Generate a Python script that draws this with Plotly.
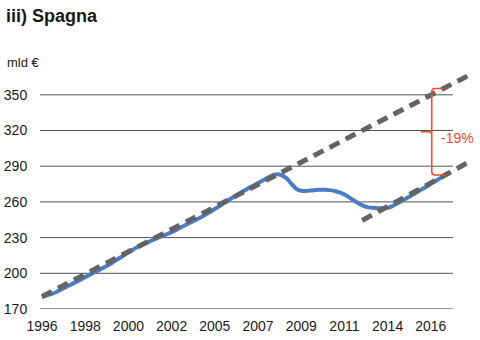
import plotly.graph_objects as go

# ---- data ----
quarters = list(range(86))  # quarterly index starting 1996Q1
gdp = [180.0, 181.4, 182.7, 184.3, 186.4, 188.5, 190.5, 192.6, 194.7, 196.8,
       198.9, 201.0, 203.1, 205.2, 207.3, 209.9, 212.4, 215.0, 217.6, 220.0,
       222.3, 224.2, 226.0, 227.8, 229.6, 231.2, 232.8, 234.6, 236.6, 238.7,
       240.8, 242.8, 244.8, 246.9, 249.1, 251.5, 254.0, 256.6, 259.2, 261.8,
       264.3, 266.8, 269.1, 271.4, 273.6, 275.8, 278.0, 280.2, 282.2, 283.2,
       282.3, 279.6, 275.0, 271.0, 269.3, 269.2, 269.6, 270.0, 270.2, 270.2,
       269.9, 269.2, 268.0, 266.2, 263.8, 261.2, 258.7, 256.6, 255.4, 255.0,
       254.7, 254.6, 255.0, 256.5, 258.6, 260.9, 263.2, 265.5, 267.9, 270.3,
       272.7, 275.2, 277.6, 280.0, 282.4, 284.8]
trend1_x = [0, 88.6]
trend1_y = [180.5, 365.7]
trend2_x = [66.7, 89.6]
trend2_y = [244.4, 295.0]
tick_pos = [0, 9, 18, 27, 36, 45, 54, 63, 72, 81]
tick_labels = ["1996", "1998", "2000", "2002", "2005", "2007", "2009", "2011", "2014", "2016"]
y_ticks = [170, 200, 230, 260, 290, 320, 350]
gap_label = "-19%"

FONT = "Liberation Sans Narrow, Arial Narrow, Liberation Sans, sans-serif"
RED = "#ef4b2c"

def t1(q):
    return trend1_y[0] + (trend1_y[1] - trend1_y[0]) * (q - trend1_x[0]) / (trend1_x[1] - trend1_x[0])

def t2(q):
    return trend2_y[0] + (trend2_y[1] - trend2_y[0]) * (q - trend2_x[0]) / (trend2_x[1] - trend2_x[0])

fig = go.Figure()
fig.add_trace(go.Scatter(x=quarters, y=gdp, mode="lines",
                         line=dict(color="#4a7dc2", width=4, shape="spline", smoothing=0.6),
                         hoverinfo="skip", showlegend=False))
for xs, ys in ((trend1_x, trend1_y), (trend2_x, trend2_y)):
    fig.add_trace(go.Scatter(x=xs, y=ys, mode="lines",
                             line=dict(color="#636363", width=5, dash="11px,7px"),
                             hoverinfo="skip", showlegend=False))

xmin, xmax = -0.42, 90.83
grid_end = 85.6
shapes = []
for v in y_ticks:
    shapes.append(dict(type="line", xref="x", yref="y", x0=xmin, x1=grid_end, y0=v, y1=v,
                       line=dict(color="#2e2e2e" if v == 170 else "#505050", width=1), layer="below"))

# brace between the two trend lines
qv = 81.2
qt, qb = 83.6, 84.0
top, bot = t1(qt), t2(qb)
mid = (top + bot) / 2
path = (f"M {qt} {top} L {qv+0.7} {top} Q {qv} {top} {qv} {top-2.5} "
        f"L {qv} {bot+2.5} Q {qv} {bot} {qv+0.7} {bot} L {qb} {bot} "
        f"M {qv-2.3} {mid} L {qv-0.7} {mid} Q {qv} {mid} {qv} {mid-2}")
shapes.append(dict(type="path", xref="x", yref="y", path=path,
                   line=dict(color=RED, width=1.5)))

fig.update_layout(
    width=480, height=340,
    margin=dict(l=40, r=2, t=71, b=31),
    paper_bgcolor="white", plot_bgcolor="white",
    font=dict(family=FONT, size=14, color="#1a1a1a"),
    shapes=shapes,
    xaxis=dict(range=[xmin, xmax], tickmode="array", tickvals=tick_pos, ticktext=tick_labels,
               showgrid=False, zeroline=False, showline=False,
               ticks="outside", ticklen=4, tickcolor="rgba(0,0,0,0)",
               tickfont=dict(family=FONT, size=14, color="#1a1a1a")),
    yaxis=dict(range=[170, 370], tickmode="array", tickvals=y_ticks,
               showgrid=False, zeroline=False, showline=False,
               ticks="outside", ticklen=9, tickcolor="rgba(0,0,0,0)",
               tickfont=dict(family=FONT, size=14, color="#1a1a1a")),
    annotations=[
        dict(text="<b>iii) Spagna</b>", xref="paper", yref="paper", x=-36/438, y=1 + 55/238,
             xanchor="left", yanchor="middle", showarrow=False,
             font=dict(family=FONT, size=18, color="#1a1a1a")),
        dict(text="mld €", xref="paper", yref="paper", x=-35/438, y=1 + 8/238,
             xanchor="left", yanchor="middle", showarrow=False,
             font=dict(family=FONT, size=13, color="#1a1a1a")),
        dict(text=gap_label, xref="x", yref="y", x=82.8, y=mid - 5,
             xanchor="left", yanchor="middle", showarrow=False,
             font=dict(family=FONT, size=14, color=RED)),
    ],
)

fig.write_html("out.html")
